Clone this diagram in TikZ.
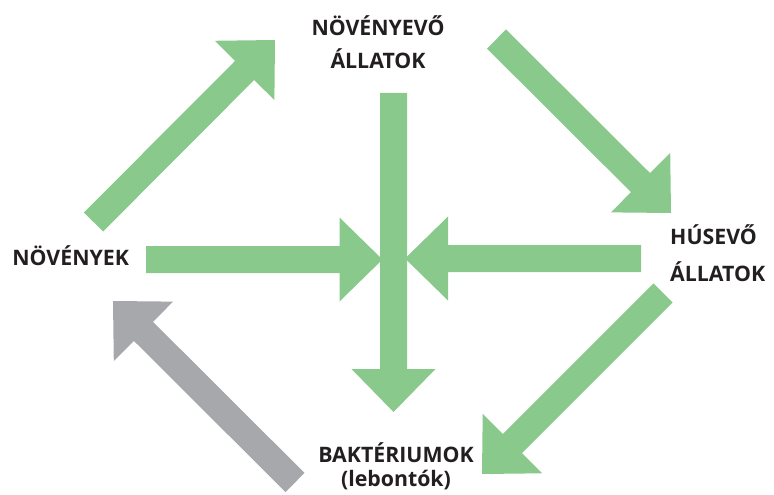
\documentclass[tikz,border=0pt]{standalone}
\usepackage{fontspec}
\setmainfont{Open Sans}
\usetikzlibrary{calc}
\definecolor{arrgreen}{HTML}{89CA8C}
\definecolor{arrgray}{HTML}{A7A8AC}
\definecolor{txtcol}{HTML}{231F20}
\newcommand\blockarrow[3]{%
  \fill[#1] ($(#2)!13.5pt!90:(#3)$)
    -- ($($(#3)!43pt!(#2)$)!13.5pt!90:(#3)$)
    -- ($($(#3)!43pt!(#2)$)!42pt!90:(#3)$)
    -- (#3)
    -- ($($(#3)!43pt!(#2)$)!42pt!-90:(#3)$)
    -- ($($(#3)!43pt!(#2)$)!13.5pt!-90:(#3)$)
    -- ($(#2)!13.5pt!-90:(#3)$) -- cycle;}
\tikzset{
  lbl/.style={text=txtcol, inner sep=0pt, font=\bfseries\fontsize{21.3}{33.3}\selectfont},
  greenarrow/.style={fill=arrgreen},
  grayarrow/.style={fill=arrgray}
}
\begin{document}
\begin{tikzpicture}[x=1pt,y=-1pt]
\useasboundingbox (0,0) rectangle (774,495);
% labels (base anchor = baseline of the last line)
\node[lbl, anchor=base west] (noveny) at (12.2,265.7) {NÖVÉNYEK};
\node[lbl, anchor=base, align=center] (novevo) at (378,69) {NÖVÉNYEVŐ\\ÁLLATOK};
\node[lbl, anchor=base west, align=left, font=\bfseries\fontsize{21.3}{37.7}\selectfont] (husevo) at (670,281.7) {HÚSEVŐ\\ÁLLATOK};
\node[lbl, anchor=base, align=center, font=\bfseries\fontsize{21.3}{24.4}\selectfont] (bakt) at (396,486.7) {BAKTÉRIUMOK\\(lebontók)};
% arrow end points
\coordinate (a1s) at (93.5,222);   \coordinate (a1t) at (275,40);
\coordinate (a2s) at (496.5,39);   \coordinate (a2t) at (671,213);
\coordinate (a3s) at (663,293);    \coordinate (a3t) at (482,474);
\coordinate (a4s) at (295,482.5);  \coordinate (a4t) at (113,301);
\coordinate (a5s) at (146,259.5);  \coordinate (a5t) at (382.5,259.5);
\coordinate (a6s) at (641,258.5);  \coordinate (a6t) at (405,258.5);
\coordinate (a7s) at (393.5,93);   \coordinate (a7t) at (393.5,412);
% arrows
\blockarrow{greenarrow}{a1s}{a1t}
\blockarrow{greenarrow}{a2s}{a2t}
\blockarrow{greenarrow}{a3s}{a3t}
\blockarrow{grayarrow}{a4s}{a4t}
\blockarrow{greenarrow}{a7s}{a7t}
\blockarrow{greenarrow}{a5s}{a5t}
\blockarrow{greenarrow}{a6s}{a6t}
\end{tikzpicture}
\end{document}
